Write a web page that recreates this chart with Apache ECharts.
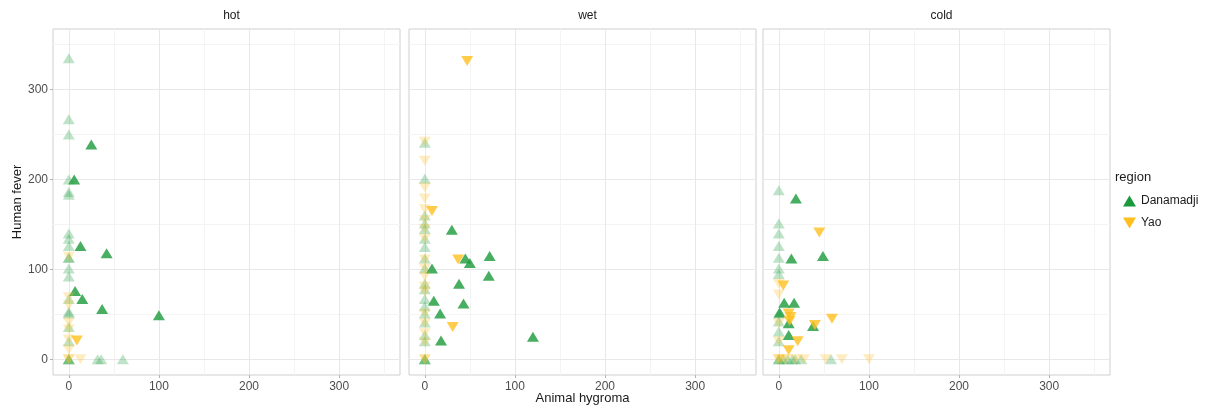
<!DOCTYPE html>
<html>
<head>
<meta charset="utf-8">
<script src="https://cdn.jsdelivr.net/npm/echarts@6/dist/echarts.min.js"></script>
<style>
  html, body { margin: 0; padding: 0; background: #fff; }
  #chart { width: 1220px; height: 410px; }
</style>
</head>
<body>
<div id="chart"></div>
<script>
// facets, in order
var facets = ["hot", "wet", "cold"];
var regions = ["Danamadji", "Yao"];

// [Animal hygroma, Human fever]
var hotDanamadji = [
  [0, 335], [0, 267], [0, 250], [0, 200], [0, 186], [0, 183], [0, 140], [0, 134], [0, 126],
  [0, 113], [0, 113], [0, 101], [0, 92], [0, 67], [0, 53], [0, 51], [0, 36], [0, 20],
  [0, 0], [0, 0], [0, 0],
  [25, 239], [6, 200], [13, 126], [42, 118], [7, 76], [15, 67], [37, 56], [100, 49],
  [32, 0], [36, 0], [60, 0]
];
var hotYao = [
  [0, 114], [0, 69], [0, 60], [0, 41], [0, 33], [0, 22], [0, 11], [0, 0], [0, 0],
  [9, 21], [13, 0]
];
var wetDanamadji = [
  [0, 241], [0, 201], [0, 160], [0, 151], [0, 145], [0, 134], [0, 125], [0, 112], [0, 101],
  [0, 84], [0, 78], [0, 67], [0, 59], [0, 51], [0, 41], [0, 27], [0, 20], [0, 0], [0, 0], [0, 0],
  [30, 144], [45, 112], [50, 107], [72, 115], [8, 101], [71, 93], [38, 84], [10, 65],
  [43, 62], [17, 51], [18, 21], [120, 25]
];
var wetYao = [
  [0, 242], [0, 221], [0, 191], [0, 179], [0, 167], [0, 155], [0, 145], [0, 134], [0, 111],
  [0, 101], [0, 92], [0, 81], [0, 75], [0, 51], [0, 40], [0, 29], [0, 19], [0, 0], [0, 0],
  [47, 332], [8, 165], [37, 111], [31, 36]
];
var coldDanamadji = [
  [0, 188], [0, 151], [0, 140], [0, 126], [0, 113], [0, 101], [0, 95], [0, 51], [0, 42],
  [0, 31], [0, 20], [0, 0], [0, 0],
  [19, 179], [14, 112], [49, 115], [6, 63], [17, 63], [1, 52], [11, 40], [38, 37], [11, 27],
  [5, 0], [10, 0], [15, 0], [18, 0], [25, 0], [58, 0]
];
var coldYao = [
  [0, 84], [0, 72], [0, 40], [0, 20], [0, 0], [0, 0],
  [45, 141], [5, 82], [11, 51], [13, 47], [12, 43], [59, 45], [40, 38], [21, 20], [11, 10],
  [3, 0], [8, 0], [19, 0], [28, 0], [52, 0], [70, 0], [100, 0]
];
var facetData = {
  hot: [hotDanamadji, hotYao],
  wet: [wetDanamadji, wetYao],
  cold: [coldDanamadji, coldYao]
};

var majorTicks = [0, 100, 200, 300];
var minorTicks = [50, 150, 250, 350];
var axisMin = -17.5;
var axisMax = 367.5;

var colors = { Danamadji: "#1a9a3a", Yao: "#ffbf1f" };
var downTri = "path://M0,0 L12,0 L6,10 Z";

var panelLeft = [53, 409, 763];
var panelWidth = 347;
var panelTop = 29;
var panelHeight = 346;
var font = "Liberation Sans";

var grids = [], xAxes = [], yAxes = [], titles = [], series = [];

facets.forEach(function (f, i) {
  grids.push({
    left: panelLeft[i], top: panelTop, width: panelWidth, height: panelHeight,
    outerBoundsMode: "none", containLabel: false,
    show: true, borderColor: "#cfcfcf", borderWidth: 1, backgroundColor: "#fff"
  });
  titles.push({
    text: f,
    left: panelLeft[i] + panelWidth / 2,
    top: 5,
    textAlign: "center",
    textStyle: { fontFamily: font, fontSize: 12, fontWeight: "normal", color: "#1a1a1a" }
  });
  // main axes: major grid + labels
  xAxes.push({
    gridIndex: i, type: "value", min: axisMin, max: axisMax, position: "bottom",
    axisLine: { show: false, onZero: false },
    axisTick: { show: true, customValues: majorTicks, length: 3, lineStyle: { color: "#b3b3b3" } },
    axisLabel: { customValues: majorTicks, color: "#4d4d4d", fontFamily: font, fontSize: 12, margin: 6 },
    splitLine: { show: true, lineStyle: { color: "#e8e8e8", width: 1 } },
    name: i === 1 ? "Animal hygroma" : "",
    nameLocation: "middle", nameGap: 23, nameMoveOverlap: false,
    nameTextStyle: { fontFamily: font, fontSize: 13, color: "#1a1a1a", verticalAlign: "middle" },
    z: 1
  });
  yAxes.push({
    gridIndex: i, type: "value", min: axisMin, max: axisMax, position: "left",
    axisLine: { show: false, onZero: false },
    axisTick: { show: i === 0, customValues: majorTicks, length: 3, lineStyle: { color: "#b3b3b3" } },
    axisLabel: { show: i === 0, customValues: majorTicks, color: "#4d4d4d", fontFamily: font, fontSize: 12, margin: 5 },
    splitLine: { show: true, lineStyle: { color: "#e8e8e8", width: 1 } },
    name: i === 0 ? "Human fever" : "",
    nameLocation: "middle", nameGap: 28, nameRotate: 90,
    nameTextStyle: { fontFamily: font, fontSize: 13, color: "#1a1a1a" },
    z: 1
  });
});

// minor grid lines on extra axes
facets.forEach(function (f, i) {
  xAxes.push({
    gridIndex: i, type: "value", min: axisMin, max: axisMax,
    axisLine: { show: false, onZero: false }, axisLabel: { show: false },
    axisTick: { show: false, customValues: minorTicks },
    splitLine: { show: true, lineStyle: { color: "#f4f4f4", width: 1 } },
    z: 0
  });
  yAxes.push({
    gridIndex: i, type: "value", min: axisMin, max: axisMax,
    axisLine: { show: false, onZero: false }, axisLabel: { show: false },
    axisTick: { show: false, customValues: minorTicks },
    splitLine: { show: true, lineStyle: { color: "#f4f4f4", width: 1 } },
    z: 0
  });
});

facets.forEach(function (f, i) {
  regions.forEach(function (r, k) {
    series.push({
      name: r,
      type: "scatter",
      xAxisIndex: i,
      yAxisIndex: i,
      symbol: k === 0 ? "triangle" : downTri,
      symbolSize: [12, 10],
      clip: false,
      itemStyle: { color: colors[r] },
      data: facetData[f][k].map(function (p) {
        // points on either axis (a zero value) are drawn faint
        var faint = p[0] === 0 || p[1] === 0;
        return { value: p, itemStyle: { opacity: faint ? 0.28 : 0.8 } };
      }),
      z: 5
    });
  });
});

var chart = echarts.init(document.getElementById("chart"));
chart.setOption({
  animation: false,
  backgroundColor: "#fff",
  title: titles,
  grid: grids,
  xAxis: xAxes,
  yAxis: yAxes,
  legend: {
    orient: "vertical",
    left: 1118,
    top: 190,
    itemWidth: 13,
    itemHeight: 11,
    itemGap: 10,
    textStyle: { fontFamily: font, fontSize: 12, color: "#1a1a1a" },
    data: [
      { name: "Danamadji", icon: "triangle", itemStyle: { color: colors.Danamadji, opacity: 1 } },
      { name: "Yao", icon: downTri, itemStyle: { color: colors.Yao, opacity: 1 } }
    ]
  },
  graphic: [{
    type: "text",
    left: 1115,
    top: 171,
    style: { text: "region", fontFamily: font, fontSize: 13, fill: "#1a1a1a" }
  }],
  series: series
});
</script>
</body>
</html>
